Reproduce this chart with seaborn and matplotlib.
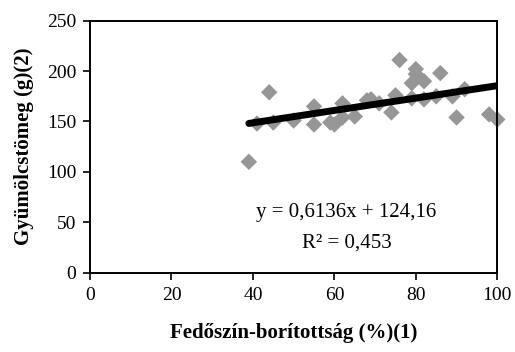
import numpy as np
import pandas as pd
import matplotlib
matplotlib.use("Agg")
import matplotlib.pyplot as plt
import seaborn as sns

# Data
cover_pct = [39, 41, 44, 45, 50, 55, 55, 59, 60, 62, 62, 65, 68, 69, 71, 74, 75, 76,
             79, 79, 80, 80, 82, 82, 85, 86, 89, 90, 92, 98, 100]
fruit_mass = [110, 148, 179, 149, 151, 165, 147, 149, 147, 168, 154, 155, 171, 172, 168, 159, 176, 211,
              188, 173, 202, 197, 190, 172, 175, 198, 175, 154, 182, 157, 152]
slope = 0.6136
intercept = 124.16
r2_text = "0,453"
x_ticks = [0, 20, 40, 60, 80, 100]
y_ticks = [0, 50, 100, 150, 200, 250]

sns.set_theme(style="white")
plt.rcParams['font.family'] = ['Liberation Serif', 'DejaVu Serif']
plt.rcParams['text.color'] = 'black'
plt.rcParams['axes.labelcolor'] = 'black'

df = pd.DataFrame({"x": cover_pct, "y": fruit_mass})
fit_x = np.array([min(cover_pct), max(cover_pct)])
fit = pd.DataFrame({"x": fit_x, "y": slope * fit_x + intercept})

fig = plt.figure(figsize=(5.15, 3.52), dpi=100)
ax = fig.add_axes([0.1748, 0.2253, 0.7908, 0.7159])

sns.scatterplot(data=df, x="x", y="y", ax=ax, marker="D", s=70, color="#969696",
                edgecolor="none", zorder=2, clip_on=False)
sns.lineplot(data=fit, x="x", y="y", ax=ax, color="black", linewidth=5,
             zorder=3, solid_capstyle="round")

ax.set_xlim(0, 100)
ax.set_ylim(0, 250)
ax.set_xticks(x_ticks)
ax.set_yticks(y_ticks)
ax.tick_params(axis="both", direction="out", length=5, width=1.2, labelsize=14,
               colors="black", bottom=True, left=True, top=False, right=False, pad=5)
for s in ax.spines.values():
    s.set_color("black")
    s.set_linewidth(1.4)

ax.set_xlabel("Fedőszín-borítottság (%)(1)", fontsize=15, fontweight="bold", labelpad=14,
              color="black")
ax.set_ylabel("Gyümölcstömeg (g)(2)", fontsize=15, fontweight="bold", labelpad=9,
              color="black")

ax.text(63, 60, f"y = {str(slope).replace('.', ',')}x + {str(intercept).replace('.', ',')}",
        ha="center", va="center", fontsize=15, color="black")
ax.text(63, 29, "R² = " + r2_text, ha="center", va="center", fontsize=15, color="black")

fig.savefig("out.png", dpi=100)
